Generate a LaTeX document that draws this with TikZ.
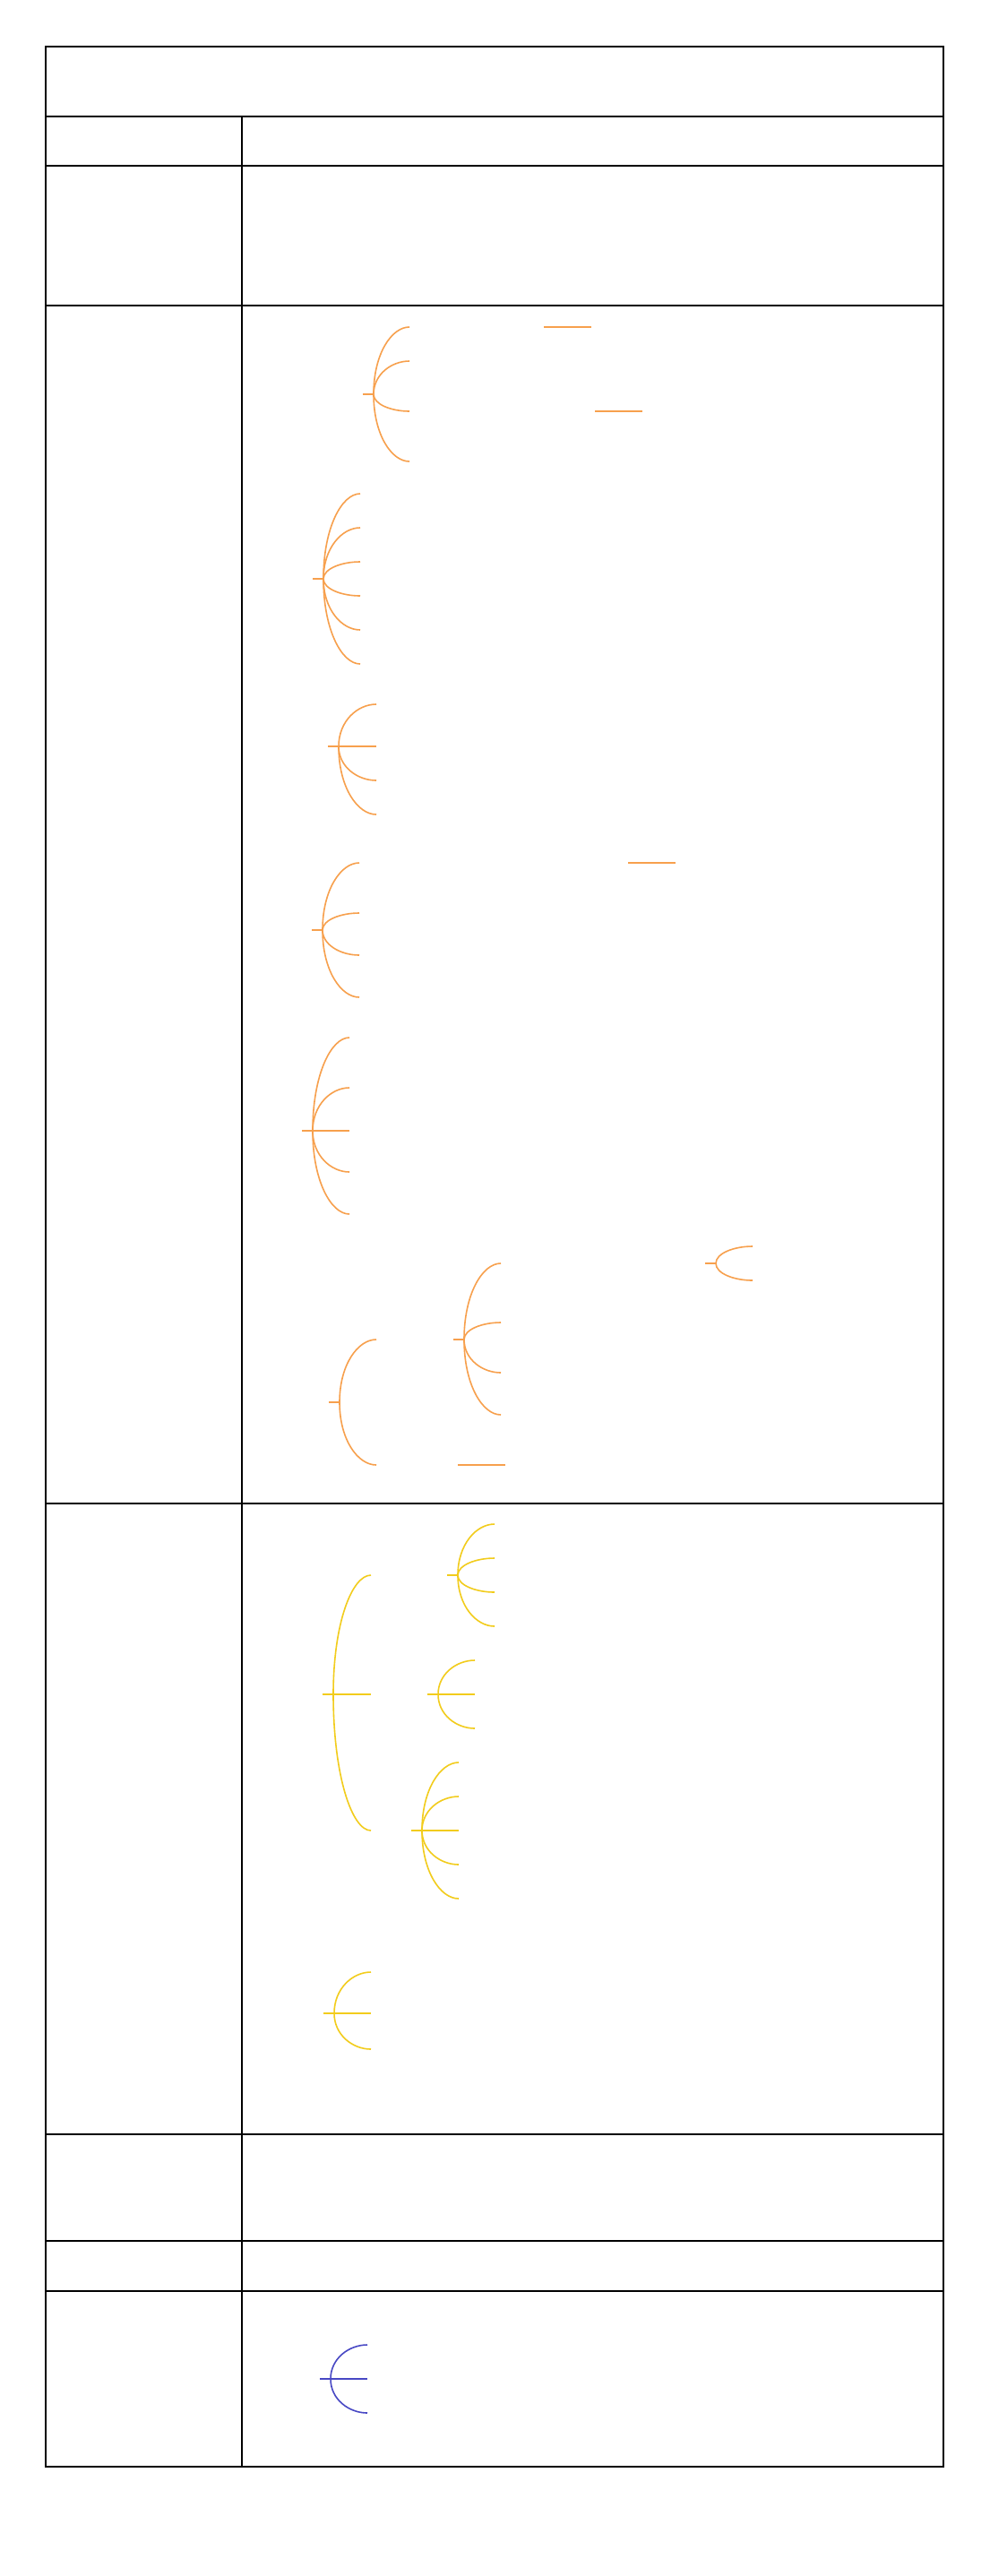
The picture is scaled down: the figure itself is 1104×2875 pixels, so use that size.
\documentclass[tikz,border=0pt]{standalone}
\usepackage{xcolor}
\definecolor{brOrange}{RGB}{247,160,77}
\definecolor{brYellow}{RGB}{242,204,28}
\definecolor{brBlue}{RGB}{72,72,196}
\tikzset{
  gridline/.style={draw=black,line width=1.8pt},
  orangeline/.style={draw=brOrange,line width=1.6pt},
  yellowline/.style={draw=brYellow,line width=1.6pt},
  blueline/.style={draw=brBlue,line width=1.6pt},
}
% #1 style, #2 tip x, #3 tip y, #4 end x, #5 list of branch end y
\newcommand{\bracefan}[5]{%
  \draw[#1] ({#2-12},#3) -- (#2,#3);
  \foreach \ey in {#5} {
    \draw[#1] (#2,#3) .. controls (#2,{#3+0.6*(\ey-#3)}) and ({#2+0.5*(#4-#2)},\ey) .. (#4,\ey);
  }%
}
\begin{document}
\begin{tikzpicture}[x=1pt,y=-1pt]
\useasboundingbox[fill=white] (0,0) rectangle (1104,2875);
% table
\coordinate (TL) at (51,52);
\coordinate (BR) at (1053,2753);
\draw[gridline] (TL) rectangle (BR);
\foreach \yy in {130,185,341,1678,2382,2501,2557}
  \draw[gridline] (51,\yy) -- (1053,\yy);
\coordinate (ColTop) at (270,130);
\coordinate (ColBot) at (270,2753);
\draw[gridline] (ColTop) -- (ColBot);
% orange section
\bracefan{orangeline}{417}{440}{457}{365,403,459,515}
\coordinate (la1) at (607,365); \coordinate (lb1) at (660,365);
\draw[orangeline] (la1) -- (lb1);
\coordinate (la2) at (664,459); \coordinate (lb2) at (717,459);
\draw[orangeline] (la2) -- (lb2);
\bracefan{orangeline}{361}{646}{402}{551,589,627,665,703,741}
\bracefan{orangeline}{378}{833}{420}{786,833,871,909}
\bracefan{orangeline}{360}{1038}{401}{963,1019,1066,1113}
\coordinate (la3) at (701,963); \coordinate (lb3) at (754,963);
\draw[orangeline] (la3) -- (lb3);
\bracefan{orangeline}{349}{1262}{390}{1158,1214,1262,1308,1355}
\bracefan{orangeline}{379}{1565}{420}{1495,1635}
\bracefan{orangeline}{518}{1495}{559}{1410,1476,1532,1579}
\bracefan{orangeline}{799}{1410}{840}{1391,1429}
\coordinate (la4) at (511,1635); \coordinate (lb4) at (564,1635);
\draw[orangeline] (la4) -- (lb4);
% yellow section
\bracefan{yellowline}{372}{1891}{414}{1758,1891,2043}
\bracefan{yellowline}{511}{1758}{552}{1701,1739,1777,1815}
\bracefan{yellowline}{489}{1891}{530}{1853,1891,1929}
\bracefan{yellowline}{471}{2043}{512}{1967,2005,2043,2081,2119}
\bracefan{yellowline}{373}{2247}{414}{2201,2247,2287}
% blue section
\bracefan{blueline}{369}{2655}{410}{2617,2655,2693}
\end{tikzpicture}
\end{document}
